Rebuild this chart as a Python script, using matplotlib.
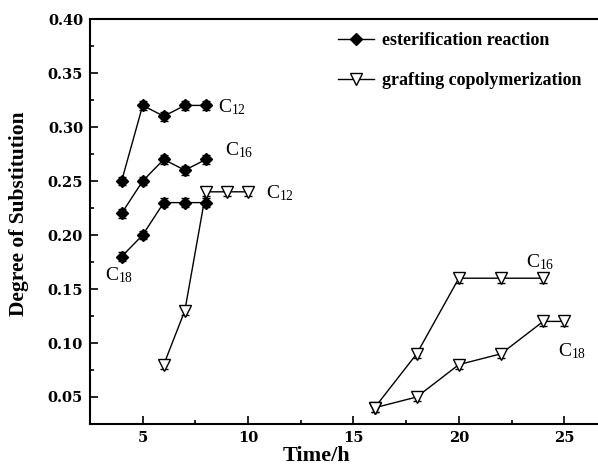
import numpy as np
import matplotlib
matplotlib.use('Agg')
import matplotlib.pyplot as plt
from matplotlib.lines import Line2D
from matplotlib.ticker import MultipleLocator, FormatStrFormatter

plt.rcParams['font.family'] = ['Liberation Serif', 'DejaVu Serif']
plt.rcParams['mathtext.fontset'] = 'custom'
plt.rcParams['mathtext.rm'] = 'Liberation Serif'

# 酯化反应
ester_x = [4, 5, 6, 7, 8]
ester_c12 = [0.25, 0.32, 0.31, 0.32, 0.32]
ester_c16 = [0.22, 0.25, 0.27, 0.26, 0.27]
ester_c18 = [0.18, 0.20, 0.23, 0.23, 0.23]
ester_err = [0.004, 0.004, 0.004, 0.004, 0.004]

# 接枝共聚
graft_c12_x = [6, 7, 8, 9, 10]
graft_c12 = [0.08, 0.13, 0.24, 0.24, 0.24]
graft_c16_x = [16, 18, 20, 22, 24]
graft_c16 = [0.04, 0.09, 0.16, 0.16, 0.16]
graft_c18_x = [16, 18, 20, 22, 24, 25]
graft_c18 = [0.04, 0.05, 0.08, 0.09, 0.12, 0.12]
graft_err = 0.004

fig = plt.figure(figsize=(5.98, 4.72), dpi=100)
ax = fig.add_axes([0.1505, 0.1017, 0.8495, 0.858])

ester_mk = dict(color='black', marker='D', markersize=6, markerfacecolor='black', linewidth=1.0)
graft_mk = dict(color='black', marker='v', markersize=8, markerfacecolor='white', linewidth=1.0)
err_kw = dict(capsize=3, elinewidth=1.0)

ax.errorbar(ester_x, ester_c12, yerr=ester_err, **ester_mk, **err_kw)
ax.errorbar(ester_x, ester_c16, yerr=ester_err, **ester_mk, **err_kw)
ax.errorbar(ester_x, ester_c18, yerr=ester_err, **ester_mk, **err_kw)

ax.errorbar(graft_c12_x, graft_c12, yerr=graft_err, **graft_mk, **err_kw)
ax.errorbar(graft_c16_x, graft_c16, yerr=graft_err, **graft_mk, **err_kw)
ax.errorbar(graft_c18_x, graft_c18, yerr=graft_err, **graft_mk, **err_kw)

# 标注
lab = dict(fontsize=14, va='center', ha='left')
ax.text(8.55, 0.318, r'$\mathregular{C_{12}}$', **lab)
ax.text(8.9, 0.279, r'$\mathregular{C_{16}}$', **lab)
ax.text(10.85, 0.239, r'$\mathregular{C_{12}}$', **lab)
ax.text(3.2, 0.163, r'$\mathregular{C_{18}}$', **lab)
ax.text(23.2, 0.175, r'$\mathregular{C_{16}}$', **lab)
ax.text(24.7, 0.092, r'$\mathregular{C_{18}}$', **lab)

ax.set_xlim(2.5, 26.6)
ax.set_ylim(0.025, 0.40)
ax.xaxis.set_major_locator(MultipleLocator(5))
ax.xaxis.set_minor_locator(MultipleLocator(2.5))
ax.yaxis.set_major_locator(MultipleLocator(0.05))
ax.yaxis.set_minor_locator(MultipleLocator(0.025))
ax.yaxis.set_major_formatter(FormatStrFormatter('%.2f'))
ax.tick_params(which='both', direction='in', width=1.2)
ax.tick_params(which='major', length=6, pad=5)
ax.tick_params(which='minor', length=3)
ax.spines['right'].set_visible(False)
for s in ['left', 'bottom', 'top']:
    ax.spines[s].set_linewidth(1.5)
for t in ax.get_xticklabels() + ax.get_yticklabels():
    t.set_fontfamily('DejaVu Serif')
    t.set_fontweight('bold')
    t.set_fontsize(10.5)

ax.set_xlabel('Time/h', fontsize=16, fontweight='bold')
ax.xaxis.set_label_coords(0.445, -0.055)
ax.set_ylabel('Degree of Substitution', fontsize=15.5, fontweight='bold')
ax.yaxis.set_label_coords(-0.12, 0.52)

handles = [Line2D([], [], **ester_mk), Line2D([], [], **graft_mk)]
labels = ['esterification reaction', 'grafting copolymerization']
ax.legend(handles, labels, loc='upper left', bbox_to_anchor=(0.474, 0.985), frameon=False,
          borderaxespad=0, prop={'weight': 'bold', 'size': 13}, handlelength=2.0,
          handletextpad=0.45, labelspacing=1.25)

fig.savefig('out.png', dpi=100)
